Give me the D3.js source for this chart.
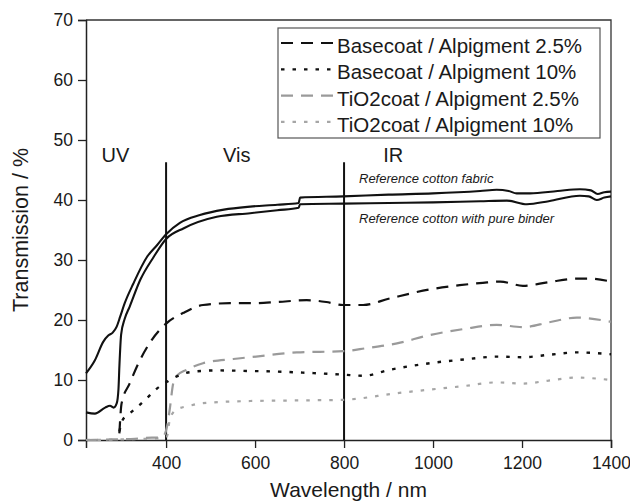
<!DOCTYPE html>
<html>
<head>
<meta charset="utf-8">
<script src="https://cdn.jsdelivr.net/npm/d3@7"></script>
<style>
  html, body { margin: 0; padding: 0; background: #fff; }
  svg { display: block; }
  text { font-family: "Liberation Sans", Arial, Helvetica, sans-serif; fill: #1a1a1a; }
</style>
</head>
<body>
<svg id="chart" width="630" height="504"></svg>
<script>
// Transmission spectra, [wavelength nm, transmission %]
const refFabric = [
  [220, 11.1], [240, 13.3], [259, 16.4], [270, 17.4], [280, 17.9], [289, 18.9],
  [297, 20.6], [307, 22.8], [326, 26.0], [357, 30.5], [380, 32.5], [400, 34.3],
  [431, 36.2], [476, 37.5], [530, 38.4], [589, 38.9], [650, 39.2], [698, 39.5],
  [701, 40.4], [798, 40.6], [900, 40.9], [1000, 41.1], [1106, 41.5], [1143, 41.7],
  [1170, 41.5], [1188, 41.1], [1218, 41.1], [1280, 41.5], [1330, 41.8], [1355, 41.6],
  [1370, 41.0], [1385, 41.3], [1400, 41.4]
];
const refBinder = [
  [220, 4.6], [240, 4.4], [263, 5.4], [274, 5.7], [282, 5.4], [289, 6.1],
  [293, 8.5], [295, 12.2], [299, 17.6], [307, 20.2], [318, 22.2], [342, 26.7],
  [372, 30.5], [400, 33.5], [440, 35.3], [514, 37.2], [589, 37.8], [650, 38.3],
  [698, 38.7], [701, 39.3], [798, 39.4], [900, 39.5], [1000, 39.6], [1106, 39.8],
  [1166, 39.9], [1211, 39.3], [1260, 39.8], [1330, 40.7], [1350, 40.6], [1368, 40.0],
  [1385, 40.4], [1400, 40.6]
];
const base25 = [
  [295, 1.1], [300, 6.1], [318, 9.4], [338, 12.8], [368, 16.7], [400, 19.4],
  [439, 21.2], [483, 22.5], [544, 22.8], [600, 22.8], [650, 23.0], [716, 23.3],
  [760, 23.0], [798, 22.5], [843, 22.5], [903, 23.6], [993, 25.1], [1060, 25.8],
  [1112, 26.2], [1151, 26.4], [1202, 25.7], [1260, 26.3], [1323, 26.9], [1350, 26.9],
  [1400, 26.4]
];
const base10 = [
  [295, 1.4], [302, 3.3], [318, 4.4], [340, 5.8], [360, 7.2], [380, 8.6],
  [402, 9.7], [427, 10.7], [453, 11.3], [514, 11.6], [589, 11.5], [650, 11.4],
  [716, 11.2], [798, 10.9], [843, 10.7], [903, 11.7], [993, 12.8], [1080, 13.5],
  [1143, 13.9], [1202, 13.8], [1260, 14.2], [1323, 14.6], [1400, 14.3]
];
const tio25 = [
  [220, 0.0], [281, 0.1], [330, 0.2], [368, 0.4], [390, 0.4], [396, 0.8],
  [402, 2.2], [408, 5.0], [416, 9.4], [424, 10.7], [446, 11.7], [483, 12.8],
  [551, 13.5], [589, 13.8], [694, 14.6], [798, 14.8], [850, 15.3], [919, 16.1],
  [993, 17.5], [1070, 18.5], [1143, 19.2], [1202, 18.8], [1260, 19.6], [1323, 20.4],
  [1400, 19.7]
];
const tio10 = [
  [220, 0.0], [300, 0.1], [390, 0.3], [396, 0.4], [402, 0.6], [408, 3.3],
  [416, 4.6], [424, 5.1], [453, 5.7], [476, 6.1], [589, 6.5], [700, 6.6],
  [798, 6.7], [919, 7.8], [993, 8.4], [1070, 9.0], [1143, 9.6], [1202, 9.4],
  [1260, 9.9], [1323, 10.4], [1400, 10.0]
];

const legendLabels = [
  "Basecoat / Alpigment 2.5%",
  "Basecoat / Alpigment 10%",
  "TiO2coat / Alpigment 2.5%",
  "TiO2coat / Alpigment 10%"
];
const regionLabels = [["UV", 255], ["Vis", 528], ["IR", 888]];
const regionBounds = [400, 800];
const xMajorTicks = [400, 600, 800, 1000, 1200, 1400];
const xMinorTicks = [300, 500, 700, 900, 1100, 1300];
const yMajorTicks = [0, 10, 20, 30, 40, 50, 60, 70];
const yMinorTicks = [5, 15, 25, 35, 45, 55, 65];

const svg = d3.select("#chart");
const x = d3.scaleLinear().domain([220, 1400]).range([86, 611]);
const y = d3.scaleLinear().domain([0, 70]).range([440, 20]);

// frame (top and right edges)
svg.append("path")
  .attr("d", `M${x(220)},${y(70)}H${x(1400)}V${y(0)}`)
  .attr("fill", "none").attr("stroke", "#333").attr("stroke-width", 1.3);

// axes
const axisFont = "17.5px";
const gx = svg.append("g").attr("transform", `translate(0,${y(0)})`);
gx.call(d3.axisBottom(x).tickValues(xMinorTicks).tickSize(5).tickFormat(""));
gx.call(d3.axisBottom(x).tickValues(xMajorTicks).tickSize(8).tickPadding(9)
  .tickFormat(d3.format("d")));
const gy = svg.append("g").attr("transform", `translate(${x(220)},0)`);
gy.call(d3.axisLeft(y).tickValues(yMinorTicks).tickSize(5).tickFormat(""));
gy.call(d3.axisLeft(y).tickValues(yMajorTicks).tickSize(8).tickPadding(5)
  .tickFormat(d3.format("d")));
[gx, gy].forEach(g => {
  g.selectAll("path.domain").attr("stroke", "#222").attr("stroke-width", 1.5);
  g.selectAll(".tick line").attr("stroke", "#222").attr("stroke-width", 1.3);
  g.selectAll(".tick text").style("font-size", axisFont)
    .style("font-family", "'Liberation Sans', Arial, sans-serif").attr("fill", "#1a1a1a");
});

// axis titles
svg.append("text")
  .attr("x", (x(220) + x(1400)) / 2).attr("y", 497)
  .attr("text-anchor", "middle").style("font-size", "21px")
  .text("Wavelength / nm");
svg.append("text")
  .attr("transform", `translate(28,${(y(0) + y(70)) / 2}) rotate(-90)`)
  .attr("text-anchor", "middle").style("font-size", "21.5px")
  .text("Transmission / %");

// spectral region boundaries and names
regionBounds.forEach(b => {
  svg.append("line")
    .attr("x1", x(b)).attr("x2", x(b))
    .attr("y1", y(0)).attr("y2", y(46.3))
    .attr("stroke", "#111").attr("stroke-width", 2);
});
regionLabels.forEach(([t, w]) => {
  svg.append("text").attr("x", x(w)).attr("y", 162)
    .style("font-size", "20px").text(t);
});

// series
const line = d3.line().x(d => x(d[0])).y(d => y(d[1])).curve(d3.curveMonotoneX);
const styles = [
  { data: refFabric, color: "#111", width: 2.1, dash: null },
  { data: refBinder, color: "#111", width: 2.1, dash: null },
  { data: tio10, color: "#a6a6a6", width: 2.2, dash: "3.5,8" },
  { data: tio25, color: "#9a9a9a", width: 2.2, dash: "12,8" },
  { data: base10, color: "#111", width: 2.4, dash: "3.5,8" },
  { data: base25, color: "#111", width: 2.2, dash: "12,8" }
];
styles.forEach(s => {
  svg.append("path").datum(s.data)
    .attr("d", line)
    .attr("fill", "none")
    .attr("stroke", s.color)
    .attr("stroke-width", s.width)
    .attr("stroke-dasharray", s.dash);
});

// curve annotations
svg.append("text").attr("x", 359).attr("y", 183)
  .style("font-size", "13px").style("font-style", "italic")
  .text("Reference cotton fabric");
svg.append("text").attr("x", 359).attr("y", 222.5)
  .style("font-size", "13px").style("font-style", "italic")
  .text("Reference cotton with pure binder");

// legend
const legendStyles = [
  { color: "#111", dash: "12,8" },
  { color: "#111", dash: "3.5,8" },
  { color: "#9a9a9a", dash: "12,8" },
  { color: "#a6a6a6", dash: "3.5,8" }
];
const lg = svg.append("g");
lg.append("rect").attr("x", 278).attr("y", 28).attr("width", 322).attr("height", 110)
  .attr("fill", "#fff").attr("stroke", "#555").attr("stroke-width", 1.2);
legendLabels.forEach((t, i) => {
  const base = 53 + i * 26.3;
  lg.append("line")
    .attr("x1", 279).attr("x2", 336)
    .attr("y1", base - 10).attr("y2", base - 10)
    .attr("stroke", legendStyles[i].color).attr("stroke-width", 2.2)
    .attr("stroke-dasharray", legendStyles[i].dash)
    .attr("stroke-dashoffset", -2);
  lg.append("text").attr("x", 337).attr("y", base)
    .style("font-size", "20.5px").text(t);
});
</script>
</body>
</html>
